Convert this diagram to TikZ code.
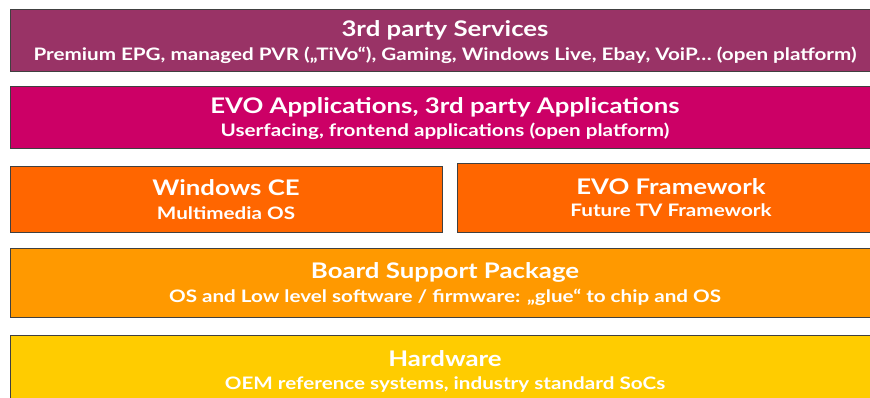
\documentclass[tikz,border=0pt]{standalone}
\usepackage{fontspec}
\setmainfont[FakeStretch=1.2]{Lato}
\usetikzlibrary{shadows}
\definecolor{svccol}{HTML}{993366}
\definecolor{appcol}{HTML}{CC0066}
\definecolor{oscol}{HTML}{FF6600}
\definecolor{bspcol}{HTML}{FF9900}
\definecolor{hwcol}{HTML}{FFCC00}
\tikzset{
  layer box/.style={rectangle,draw=black!75,line width=0.8pt,inner sep=0pt,
    drop shadow={shadow xshift=1.2pt,shadow yshift=-1.2pt,fill=black!35,opacity=0.6}},
  layer title/.style={anchor=base,text=white,inner sep=0pt,
    font=\fontsize{21.5}{24}\selectfont\bfseries},
  layer sub/.style={anchor=base,text=white,inner sep=0pt,
    font=\fontsize{17.2}{20}\selectfont\bfseries},
}

\begin{document}
\begin{tikzpicture}[x=1pt,y=-1pt]
  \useasboundingbox (0,0) rectangle (870,398);
  \begin{scope}
    \clip (0,0) rectangle (870,398);
    % layers, top to bottom
    \node[layer box,fill=svccol,minimum width=870pt,minimum height=62pt] (svc) at (445,40) {};
    \node[layer box,fill=appcol,minimum width=870pt,minimum height=62pt] (apps) at (445,117) {};
    \node[layer box,fill=oscol,minimum width=432pt,minimum height=66pt] (wince) at (226,199) {};
    \node[layer box,fill=oscol,minimum width=428pt,minimum height=69pt] (evofw) at (671,197.5) {};
    \node[layer box,fill=bspcol,minimum width=870pt,minimum height=69pt] (bsp) at (445,282.5) {};
    \node[layer box,fill=hwcol,minimum width=870pt,minimum height=70pt] (hw) at (445,370) {};

    \node[layer title] (svc-t) at ([yshift=-28pt]svc.north) {3rd party Services};
    \node[layer sub] (svc-s) at ([yshift=-51.5pt]svc.north)
      {Premium EPG, managed PVR („TiVo“), Gaming, Windows Live, Ebay, VoiP… (open platform)};
    \node[layer title] (apps-t) at ([yshift=-27.5pt]apps.north) {EVO Applications, 3rd party Applications};
    \node[layer sub] (apps-s) at ([yshift=-50.5pt]apps.north) {Userfacing, frontend applications (open platform)};
    \node[layer title] (wince-t) at ([yshift=-30pt]wince.north) {Windows CE};
    \node[layer sub] (wince-s) at ([yshift=-53.5pt]wince.north) {Multimedia OS};
    \node[layer title] (evofw-t) at ([yshift=-32pt]evofw.north) {EVO Framework};
    \node[layer sub] (evofw-s) at ([yshift=-54pt]evofw.north) {Future TV Framework};
    \node[layer title] (bsp-t) at ([yshift=-31pt]bsp.north) {Board Support Package};
    \node[layer sub] (bsp-s) at ([yshift=-55pt]bsp.north)
      {OS and Low level software / firmware: „glue“ to chip and OS};
    \node[layer title] (hw-t) at ([yshift=-31.5pt]hw.north) {Hardware};
    \node[layer sub] (hw-s) at ([yshift=-54.5pt]hw.north) {OEM reference systems, industry standard SoCs};
  \end{scope}
\end{tikzpicture}
\end{document}
